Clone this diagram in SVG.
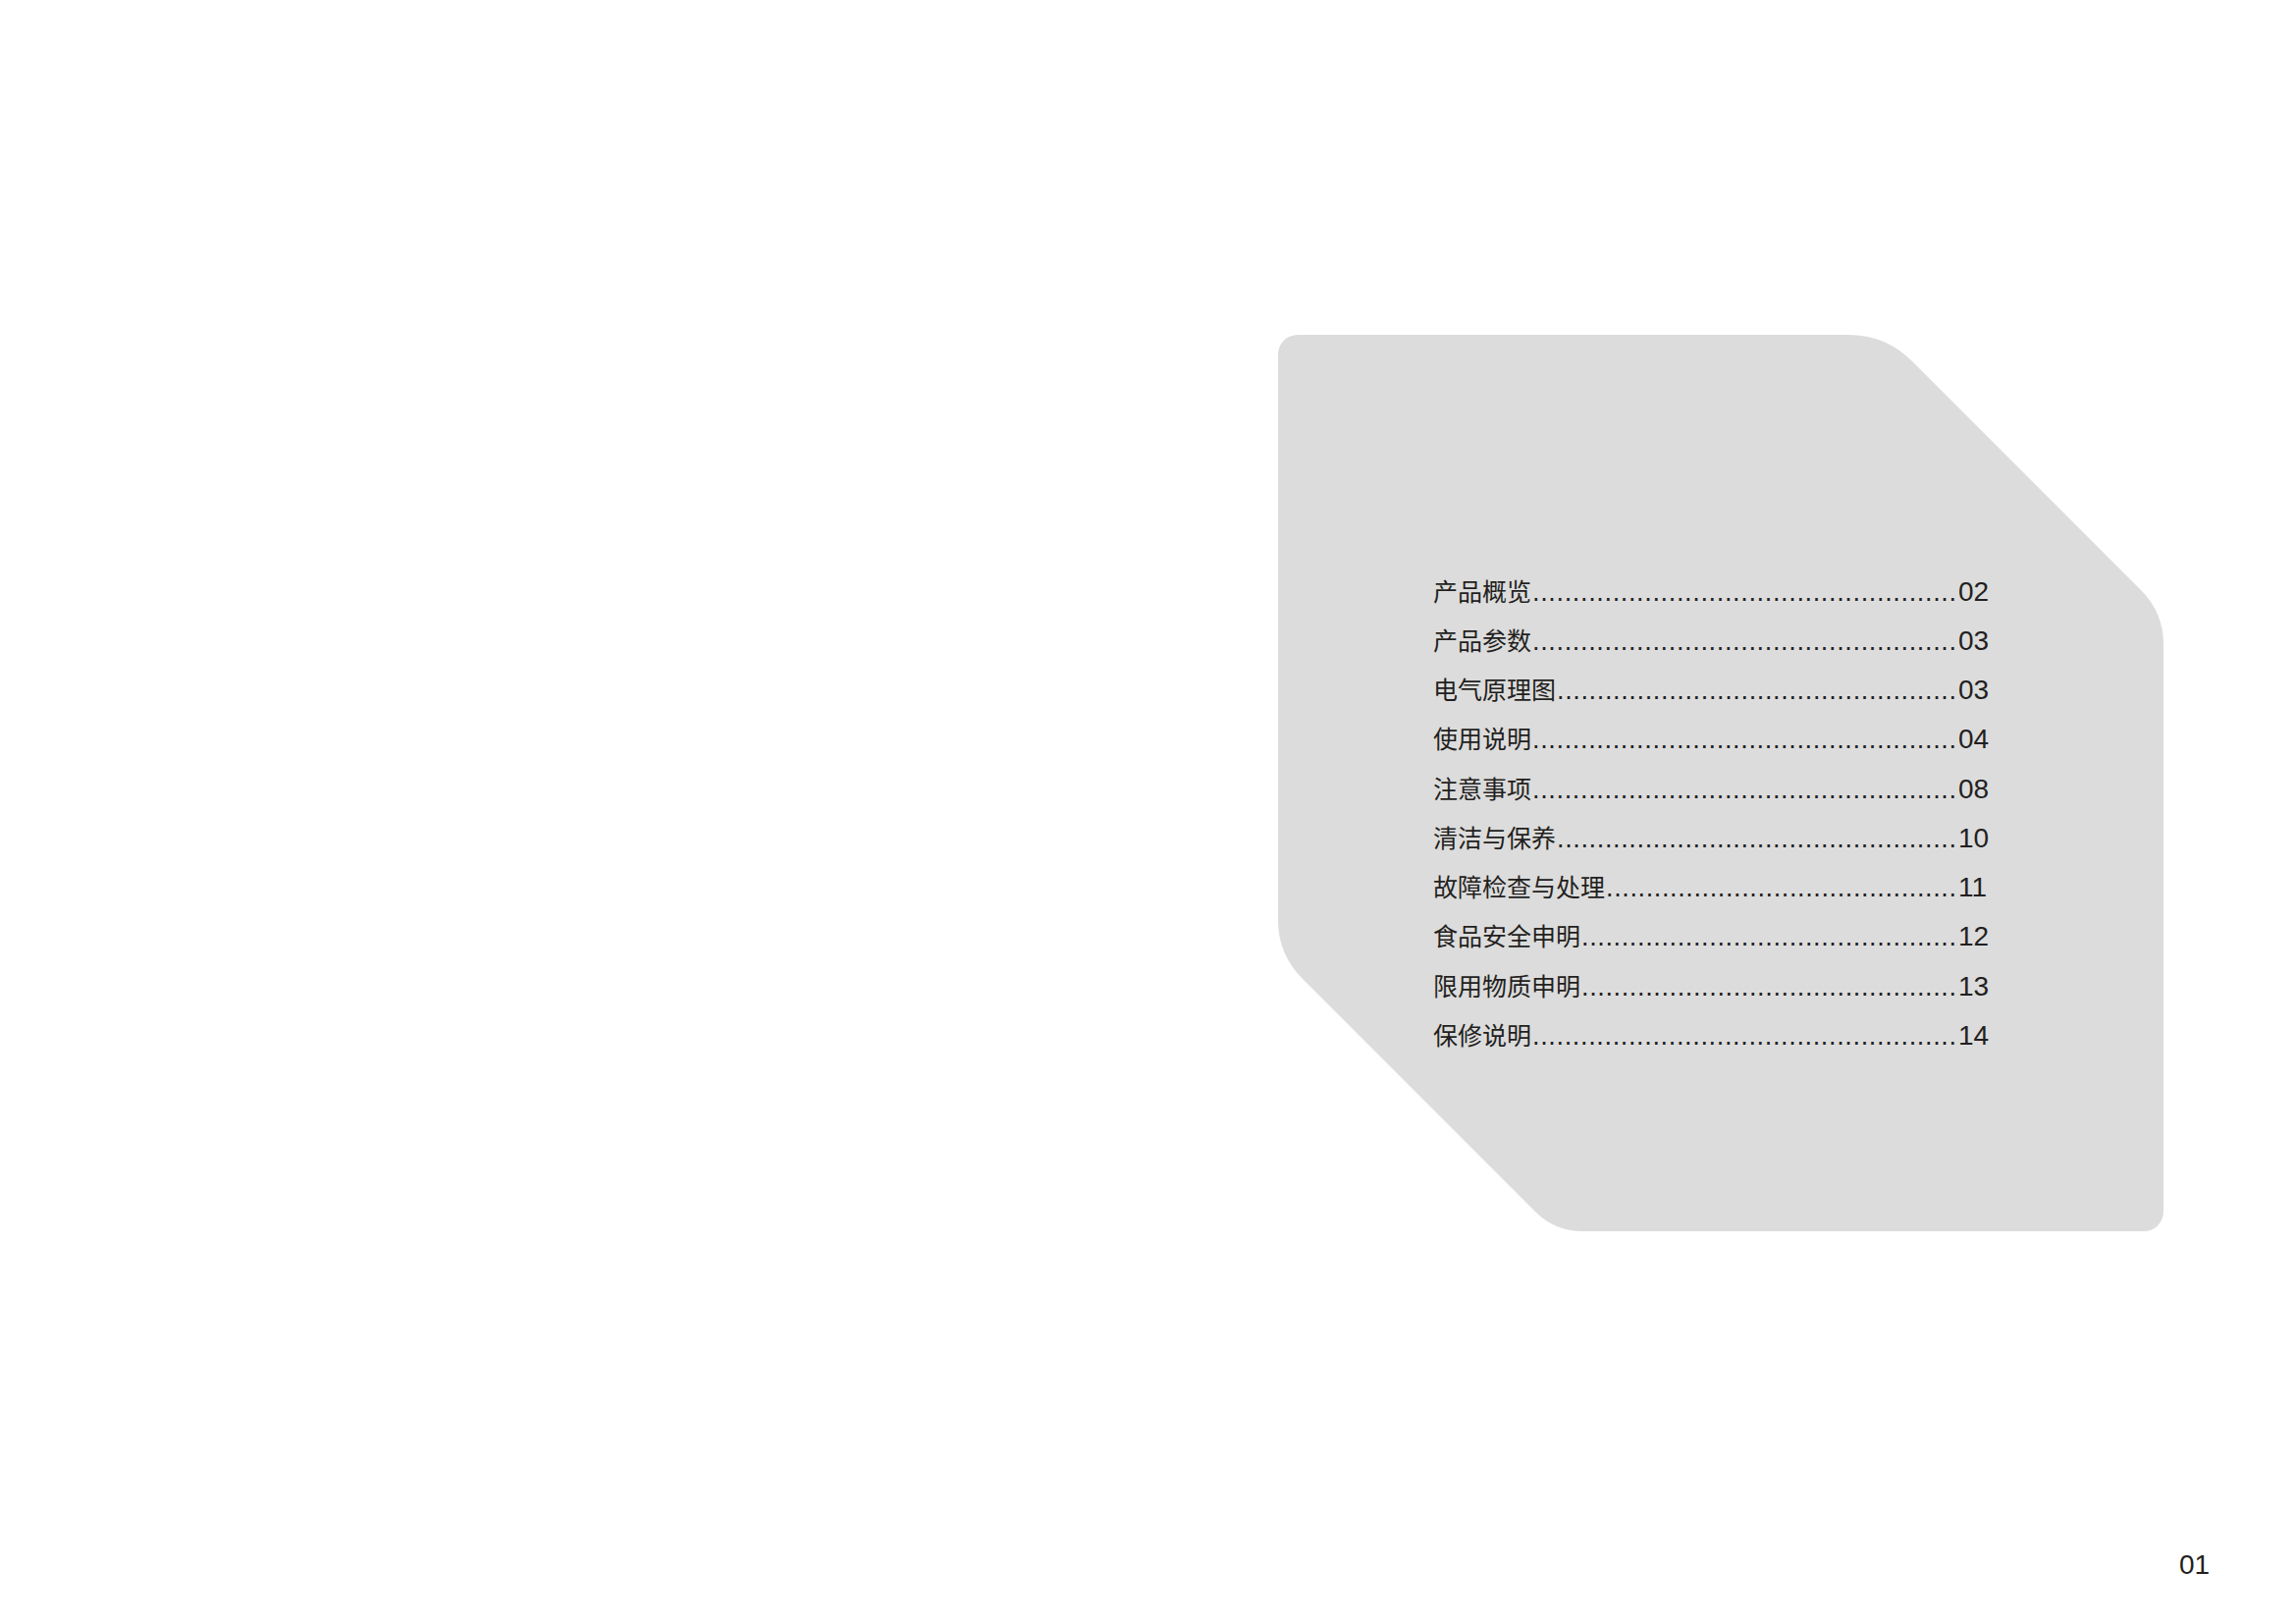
<svg xmlns="http://www.w3.org/2000/svg" width="2339" height="1654" viewBox="0 0 2339 1654">
<style>
.lbl{font-family:"Noto Sans CJK SC","Liberation Sans",sans-serif;font-size:25px;fill:#231f20}
.dots{font-family:"Liberation Sans",Arial,sans-serif;font-size:27px;fill:#231f20}
.num{font-family:"Liberation Sans",Arial,sans-serif;font-size:28px;fill:#231f20}
</style>
<rect width="2339" height="1654" fill="#ffffff"/>
<g id="panel">
<path d="M 1322 341 L 1883 341 Q 1921 341 1948 368 L 2181 601 Q 2204 624 2204 656 L 2204 1234 A 20 20 0 0 1 2184 1254 L 1612 1254 Q 1584 1254 1564 1234 L 1327 997 Q 1302 972 1302 937 L 1302 361 A 20 20 0 0 1 1322 341 Z" fill="#dcdcdc"/>
</g>
<g id="toc">
<g id="row1"><text class="lbl" x="1460" y="612">产品概览</text><text class="dots" x="1561" y="612" textLength="432" lengthAdjust="spacing">.....................................................</text><text class="num" x="1995" y="612">02</text></g>
<g id="row2"><text class="lbl" x="1460" y="662">产品参数</text><text class="dots" x="1561" y="662" textLength="432" lengthAdjust="spacing">.....................................................</text><text class="num" x="1995" y="662">03</text></g>
<g id="row3"><text class="lbl" x="1460" y="712">电气原理图</text><text class="dots" x="1586" y="712" textLength="407" lengthAdjust="spacing">..................................................</text><text class="num" x="1995" y="712">03</text></g>
<g id="row4"><text class="lbl" x="1460" y="762">使用说明</text><text class="dots" x="1561" y="762" textLength="432" lengthAdjust="spacing">.....................................................</text><text class="num" x="1995" y="762">04</text></g>
<g id="row5"><text class="lbl" x="1460" y="813">注意事项</text><text class="dots" x="1561" y="813" textLength="432" lengthAdjust="spacing">.....................................................</text><text class="num" x="1995" y="813">08</text></g>
<g id="row6"><text class="lbl" x="1460" y="863">清洁与保养</text><text class="dots" x="1586" y="863" textLength="407" lengthAdjust="spacing">..................................................</text><text class="num" x="1995" y="863">10</text></g>
<g id="row7"><text class="lbl" x="1460" y="913">故障检查与处理</text><text class="dots" x="1636" y="913" textLength="357" lengthAdjust="spacing">............................................</text><text class="num" x="1995" y="913">11</text></g>
<g id="row8"><text class="lbl" x="1460" y="963">食品安全申明</text><text class="dots" x="1611" y="963" textLength="382" lengthAdjust="spacing">...............................................</text><text class="num" x="1995" y="963">12</text></g>
<g id="row9"><text class="lbl" x="1460" y="1014">限用物质申明</text><text class="dots" x="1611" y="1014" textLength="382" lengthAdjust="spacing">...............................................</text><text class="num" x="1995" y="1014">13</text></g>
<g id="row10"><text class="lbl" x="1460" y="1064">保修说明</text><text class="dots" x="1561" y="1064" textLength="432" lengthAdjust="spacing">.....................................................</text><text class="num" x="1995" y="1064">14</text></g>
</g>
<g id="pagenum"><text class="num" x="2220" y="1603">01</text></g>
<g id="connectors"></g>
</svg>
